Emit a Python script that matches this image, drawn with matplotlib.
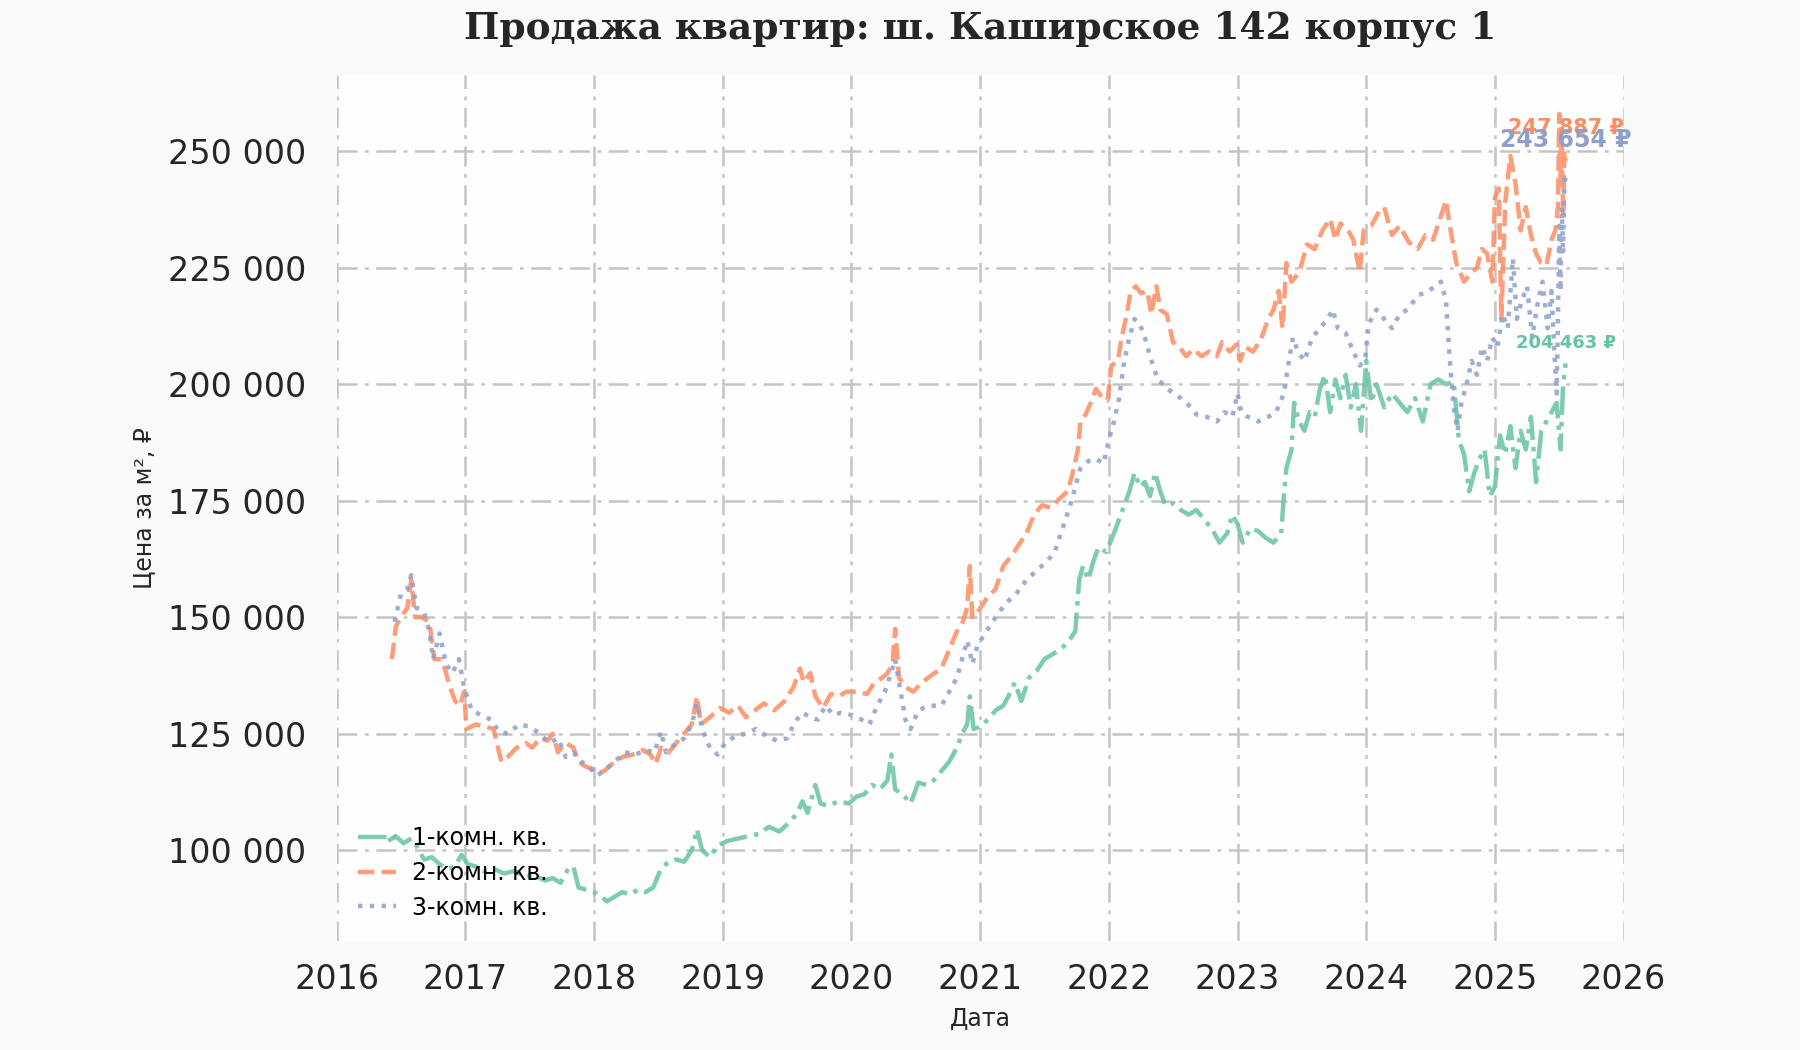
import matplotlib
matplotlib.use("Agg")
import matplotlib.pyplot as plt
import numpy as np

plt.rcParams.update({
    "font.family": "DejaVu Sans",
    "figure.dpi": 100,
})

LABELS = ["1-комн. кв.", "2-комн. кв.", "3-комн. кв."]
COLORS = ["#66c2a5", "#fc8d62", "#8da0cb"]
STYLES = ["-.", "--", ":"]

# 1-комн. кв. (decimal year, thousand rub per m2)
t1 = [2016.40, 2016.46, 2016.52, 2016.58, 2016.62, 2016.68, 2016.74, 2016.80, 2016.86, 2016.92,
      2016.97, 2017.02, 2017.08, 2017.14, 2017.22, 2017.30, 2017.38, 2017.46, 2017.54, 2017.62,
      2017.68, 2017.74, 2017.80, 2017.84, 2017.88, 2017.94, 2018.00, 2018.06, 2018.10, 2018.16,
      2018.22, 2018.28, 2018.34, 2018.40, 2018.46, 2018.52, 2018.58, 2018.64, 2018.70, 2018.76,
      2018.80, 2018.84, 2018.90, 2018.96, 2019.04, 2019.12, 2019.20, 2019.28, 2019.36, 2019.44,
      2019.52, 2019.58, 2019.62, 2019.66, 2019.72, 2019.76, 2019.82, 2019.90, 2019.98, 2020.04,
      2020.10, 2020.16, 2020.22, 2020.28, 2020.31, 2020.34, 2020.40, 2020.46, 2020.52, 2020.58,
      2020.64, 2020.70, 2020.76, 2020.82, 2020.86, 2020.90, 2020.92, 2020.95, 2021.00, 2021.06,
      2021.12, 2021.18, 2021.22, 2021.27, 2021.32, 2021.38, 2021.44, 2021.50, 2021.56, 2021.62,
      2021.68, 2021.74, 2021.77, 2021.80, 2021.84, 2021.88, 2021.92, 2021.98, 2022.04, 2022.08,
      2022.12, 2022.16, 2022.20, 2022.24, 2022.28, 2022.32, 2022.36, 2022.40, 2022.44, 2022.50,
      2022.56, 2022.62, 2022.68, 2022.74, 2022.80, 2022.86, 2022.92, 2022.96, 2023.00, 2023.04,
      2023.10, 2023.16, 2023.22, 2023.28, 2023.34, 2023.36, 2023.38, 2023.42, 2023.44, 2023.48,
      2023.52, 2023.56, 2023.60, 2023.64, 2023.68, 2023.72, 2023.76, 2023.80, 2023.84, 2023.88,
      2023.92, 2023.96, 2024.00, 2024.04, 2024.08, 2024.14, 2024.20, 2024.26, 2024.32, 2024.38,
      2024.44, 2024.50, 2024.56, 2024.62, 2024.68, 2024.72, 2024.76, 2024.80, 2024.84, 2024.88,
      2024.92, 2024.96, 2025.00, 2025.04, 2025.08, 2025.12, 2025.16, 2025.20, 2025.24, 2025.28,
      2025.32, 2025.36, 2025.40, 2025.44, 2025.48, 2025.51, 2025.53, 2025.55]
v1 = [102, 103, 101.5, 102.5, 101, 98, 98.5, 97, 96, 96.5,
      99, 97, 96.5, 95.5, 96, 95, 95.5, 94.5, 94.5, 93.5,
      94, 93, 96, 96.5, 92, 91.5, 91, 90, 89, 90,
      91, 90.5, 91.5, 91, 92, 96, 97.5, 98, 97.5, 100,
      104.5, 100, 98.5, 101, 102, 102.5, 103, 103.5, 105, 104,
      106, 108, 110.5, 108, 114, 110, 109.5, 110.5, 110, 111.5,
      112, 114, 113, 115, 120.5, 113, 112, 110, 114.5, 114,
      115, 117, 119, 122, 125, 127, 133, 126, 126.5, 128,
      130, 131, 133, 136, 132, 137, 138.5, 141, 142, 143,
      144.5, 147, 158, 161, 158, 162, 165, 164, 168, 171,
      174, 177, 181, 178, 179, 176, 181, 177, 174, 174.5,
      173, 172, 173, 171, 169, 166, 168, 172, 170, 166,
      169, 168.5, 167, 166, 168, 176, 182, 186, 196, 192,
      190, 194, 193, 199, 202, 194, 201, 197, 202, 195,
      200, 190, 205, 196, 200, 195, 198, 196, 194, 197,
      192, 200, 201, 200, 200.5, 188, 185, 177, 181, 184,
      186, 176, 178, 189, 185, 191, 182, 190, 186, 193,
      179, 190, 192, 194, 196, 186, 200, 204.463]

# 2-комн. кв.
t2 = [2016.43, 2016.46, 2016.50, 2016.55, 2016.58, 2016.61, 2016.66, 2016.72, 2016.76, 2016.82,
      2016.87, 2016.92, 2016.96, 2016.99, 2017.01, 2017.08, 2017.15, 2017.22, 2017.28, 2017.33,
      2017.40, 2017.47, 2017.52, 2017.58, 2017.64, 2017.68, 2017.72, 2017.78, 2017.84, 2017.88,
      2017.93, 2017.98, 2018.03, 2018.08, 2018.14, 2018.22, 2018.30, 2018.38, 2018.44, 2018.48,
      2018.52, 2018.58, 2018.64, 2018.70, 2018.76, 2018.80, 2018.83, 2018.90, 2018.98, 2019.05,
      2019.12, 2019.18, 2019.25, 2019.32, 2019.40, 2019.48, 2019.55, 2019.60, 2019.63, 2019.68,
      2019.72, 2019.78, 2019.84, 2019.90, 2019.96, 2020.05, 2020.12, 2020.18, 2020.24, 2020.28,
      2020.32, 2020.34, 2020.37, 2020.42, 2020.48, 2020.55, 2020.62, 2020.70, 2020.76, 2020.82,
      2020.86, 2020.90, 2020.92, 2020.94, 2020.98, 2021.05, 2021.12, 2021.18, 2021.24, 2021.30,
      2021.36, 2021.42, 2021.48, 2021.55, 2021.62, 2021.68, 2021.72, 2021.76, 2021.78, 2021.82,
      2021.86, 2021.90, 2021.95, 2021.99, 2022.02, 2022.07, 2022.10, 2022.14, 2022.17, 2022.21,
      2022.25, 2022.30, 2022.33, 2022.37, 2022.40, 2022.45, 2022.50, 2022.55, 2022.60, 2022.66,
      2022.72, 2022.78, 2022.84, 2022.88, 2022.94, 2022.99, 2023.02, 2023.06, 2023.12, 2023.18,
      2023.24, 2023.28, 2023.32, 2023.35, 2023.38, 2023.42, 2023.48, 2023.54, 2023.60, 2023.66,
      2023.72, 2023.76, 2023.80, 2023.86, 2023.90, 2023.95, 2023.98, 2024.04, 2024.10, 2024.14,
      2024.20, 2024.26, 2024.33, 2024.40, 2024.46, 2024.52, 2024.58, 2024.62, 2024.65, 2024.70,
      2024.76, 2024.82, 2024.86, 2024.90, 2024.94, 2024.98, 2025.00, 2025.03, 2025.05, 2025.08,
      2025.12, 2025.16, 2025.20, 2025.24, 2025.28, 2025.32, 2025.36, 2025.40, 2025.44, 2025.47,
      2025.49, 2025.50, 2025.51, 2025.52, 2025.53, 2025.54, 2025.55]
v2 = [141, 148, 150, 152, 158, 150, 150, 149, 141, 141,
      136, 132, 131, 134, 126, 127, 126.5, 126, 119, 120,
      122, 123, 122, 124, 123.5, 125, 121, 123, 122, 119,
      118, 117.5, 116.5, 117, 118.5, 120, 120.5, 121.5, 120.5, 118.5,
      122, 121, 123, 125, 127, 133, 127, 128.5, 130.5, 129.5,
      131, 128.5, 130, 131.5, 130, 132, 135, 139, 136, 138,
      133, 130.5, 133.5, 133, 134, 134, 133.5, 136, 137, 138,
      140, 147.5, 137, 135, 134, 136, 137.5, 139, 143, 147,
      148.5, 152, 161, 150, 151, 154, 156, 161, 163, 165.5,
      168, 172, 174, 173.5, 175.5, 177, 181, 186, 192, 193.5,
      196, 199, 197, 196.5, 204, 205, 210, 215, 220, 221,
      219.5, 220, 215, 221, 216, 215, 209, 208, 206, 207.5,
      206, 207, 206, 209, 207, 208.5, 205, 208, 207, 209.5,
      214, 216, 220, 212, 226, 222, 224, 230, 229, 233,
      235.5, 231, 234.5, 233, 231, 224, 233, 234, 237, 238,
      232, 234, 230.5, 229, 232, 231, 236, 239.5, 234, 226,
      222, 224, 225, 229, 228, 222, 240, 242, 214, 239,
      249, 243, 233, 238, 232, 228, 226, 225.5, 231, 233,
      238, 258, 244, 252, 236, 250, 247.887]

# 3-комн. кв.
t3 = [2016.45, 2016.50, 2016.55, 2016.58, 2016.62, 2016.68, 2016.72, 2016.75, 2016.80, 2016.85,
      2016.90, 2016.95, 2016.99, 2017.05, 2017.12, 2017.20, 2017.26, 2017.33, 2017.42, 2017.50,
      2017.58, 2017.65, 2017.72, 2017.78, 2017.84, 2017.90, 2017.96, 2018.02, 2018.08, 2018.16,
      2018.24, 2018.32, 2018.40, 2018.47, 2018.52, 2018.56, 2018.62, 2018.70, 2018.76, 2018.80,
      2018.84, 2018.90, 2018.96, 2019.02, 2019.10, 2019.18, 2019.26, 2019.34, 2019.42, 2019.50,
      2019.56, 2019.62, 2019.68, 2019.74, 2019.80, 2019.86, 2019.92, 2020.00, 2020.08, 2020.14,
      2020.20, 2020.26, 2020.32, 2020.34, 2020.37, 2020.42, 2020.46, 2020.52, 2020.60, 2020.70,
      2020.76, 2020.82, 2020.86, 2020.90, 2020.94, 2020.98, 2021.05, 2021.12, 2021.20, 2021.28,
      2021.36, 2021.44, 2021.52, 2021.58, 2021.64, 2021.70, 2021.74, 2021.78, 2021.84, 2021.90,
      2021.96, 2022.00, 2022.04, 2022.08, 2022.12, 2022.16, 2022.20, 2022.24, 2022.28, 2022.32,
      2022.38, 2022.44, 2022.50, 2022.56, 2022.62, 2022.68, 2022.76, 2022.84, 2022.90, 2022.96,
      2023.00, 2023.03, 2023.08, 2023.16, 2023.24, 2023.30, 2023.36, 2023.40, 2023.43, 2023.47,
      2023.52, 2023.58, 2023.64, 2023.70, 2023.74, 2023.78, 2023.84, 2023.90, 2023.95, 2023.99,
      2024.02, 2024.08, 2024.14, 2024.20, 2024.26, 2024.32, 2024.40, 2024.48, 2024.54, 2024.58,
      2024.62, 2024.65, 2024.68, 2024.71, 2024.74, 2024.78, 2024.82, 2024.86, 2024.90, 2024.94,
      2024.98, 2025.02, 2025.06, 2025.10, 2025.14, 2025.17, 2025.21, 2025.25, 2025.29, 2025.33,
      2025.37, 2025.41, 2025.44, 2025.46, 2025.48, 2025.49, 2025.50, 2025.51, 2025.52, 2025.53,
      2025.54, 2025.55]
v3 = [149, 155, 156, 159, 152, 151, 147, 141, 146.5, 140,
      138, 141, 135, 130, 129, 128, 125.5, 125, 127, 126.5,
      125, 123, 124, 120, 121, 119, 118, 116, 117, 119,
      121, 120.5, 121.5, 121, 125.5, 121, 122.5, 124, 127, 131.5,
      126, 122, 120.5, 123, 124.5, 125, 126, 124.5, 123.5, 124,
      127.5, 129.5, 128.5, 128, 131, 129, 129.5, 129, 128, 127,
      131, 134, 139, 141, 136, 128, 126, 130, 131, 131,
      134, 137, 141, 145, 140, 144, 147, 150, 153, 155,
      158, 160, 162, 164, 169, 174, 178, 182, 183.5, 184,
      183, 188, 192, 197, 205, 210, 214, 213, 210, 206,
      201, 199.5, 198, 197, 195.5, 193.5, 193, 192, 194, 193,
      198, 194, 193, 192, 193, 194, 198, 205, 210, 207,
      205, 210, 212, 214, 216, 212, 211, 207, 204, 205,
      213, 216, 214, 212, 215, 216, 219, 220, 221, 222,
      218, 205, 195, 190, 196, 200, 205, 202, 208, 205,
      210, 208, 215, 212, 227, 214, 218, 221, 210, 217,
      222, 212, 220, 208, 198, 214, 234, 220, 238, 228,
      245, 243.654]

SERIES = [(t1, v1), (t2, v2), (t3, v3)]
# end-of-line label: offset (points), font size
END_OFFSETS = [15, 24, 29]
END_SIZES = [13, 15, 17]


def fmt_thousands(x, pos=None):
    return f"{int(round(x)):,}".replace(",", " ")


fig = plt.figure(figsize=(18, 10.5), facecolor="#f8fafc")
ax = fig.add_axes([0.187, 0.104, 0.715, 0.825])
ax.set_facecolor("#fefefe")

for (t, v), lab, col, ls in zip(SERIES, LABELS, COLORS, STYLES):
    ax.plot(t, np.array(v) * 1000, ls, color=col, lw=3.2, alpha=0.85, label=lab)

for (t, v), col, off, fs in zip(SERIES, COLORS, END_OFFSETS, END_SIZES):
    ax.annotate(f"{fmt_thousands(v[-1] * 1000)} ₽", xy=(t[-1], v[-1] * 1000),
                xytext=(0, off), textcoords="offset points",
                ha="center", va="center", color=col, fontsize=fs, fontweight="bold")

ax.set_xlim(2016, 2026)
ax.set_xticks(np.arange(2016, 2027))
ax.set_yticks(np.arange(100000, 250001, 25000))
ax.yaxis.set_major_formatter(matplotlib.ticker.FuncFormatter(fmt_thousands))

ax.grid(True, linestyle=(0, (8, 3, 1.5, 3)), color="#c4c4c4", lw=1.8)
ax.set_axisbelow(True)
for s in ax.spines.values():
    s.set_visible(False)
ax.tick_params(length=0, labelsize=24, colors="#262626")
ax.tick_params(axis="y", pad=22)
ax.tick_params(axis="x", pad=16)

ax.set_xlabel("Дата", fontsize=17, color="#262626", labelpad=8)
ax.set_ylabel("Цена за м², ₽", fontsize=17, color="#262626", labelpad=8)
ax.set_title("Продажа квартир: ш. Каширское 142 корпус 1", fontsize=27,
             fontweight="bold", family="DejaVu Serif", color="#262626", pad=26)

ax.legend(loc="lower left", frameon=False, fontsize=17, handlelength=1.6,
          handletextpad=0.7, borderaxespad=0.5, labelspacing=0.45)

fig.savefig("out.png", dpi=100, facecolor=fig.get_facecolor())
